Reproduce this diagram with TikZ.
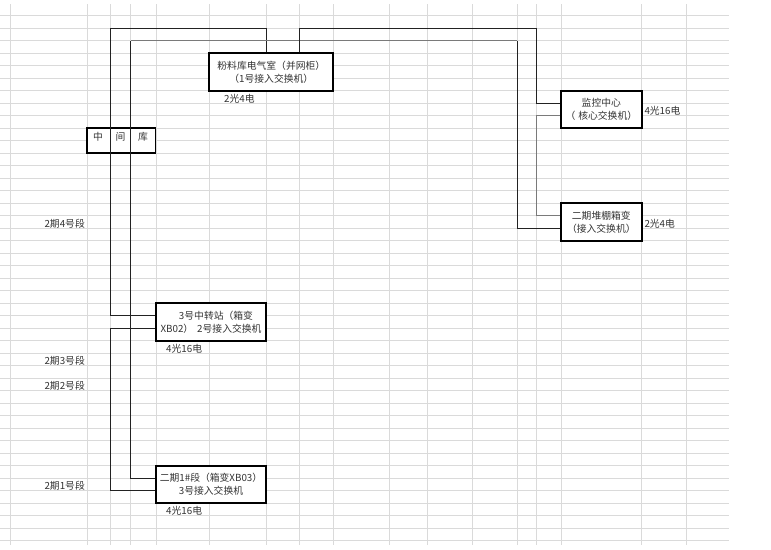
\documentclass[tikz,border=0pt]{standalone}
\usepackage{fontspec}
\newfontfamily\cjk{Noto Sans CJK SC}
\definecolor{gridc}{HTML}{DADADA}
\definecolor{connc}{HTML}{222222}
\definecolor{conng}{HTML}{7A7A7A}
\definecolor{txtc}{HTML}{333333}
\begin{document}
\begin{tikzpicture}[x=1pt,y=-1pt,
  gridline/.style={draw=gridc,line width=1pt},
  box/.style={draw=black,line width=1.7pt,fill=white,inner sep=0pt,align=center,
    text=txtc,font=\cjk\fontsize{9.8}{13.3}\selectfont},
  lbl/.style={inner sep=0pt,text=txtc,font=\cjk\fontsize{9.8}{13.3}\selectfont},
  conn/.style={draw=connc,line width=1pt},
  conngray/.style={draw=conng,line width=1pt}]
\useasboundingbox (0,0) rectangle (771,549);
\fill[white] (0,0) rectangle (771,549);
% spreadsheet grid
\foreach \x in {10.7,87,110.7,130.7,156.7,209.3,266,299.3,333.3,389.3,427.3,472.3,517.3,536,561,641.7,686.7}
  \draw[gridline] (\x,4) -- (\x,545);
\foreach \k in {0,...,42}
  \draw[gridline] (0,{15.7+12.5*\k}) -- (729,{15.7+12.5*\k});
% boxes
\node[box,minimum width=124pt,minimum height=37.4pt] (fl) at (271.3,72)
  {粉料库电气室（并网柜）\\（1号接入交换机）};
\node[box,minimum width=68.3pt,minimum height=25pt] (zj) at (121.2,140.8) {};
\node[box,minimum width=80.7pt,minimum height=37.6pt] (jk) at (601.3,109.5)
  {监控中心\\（\hspace{3pt}核心交换机）};
\node[box,minimum width=80.7pt,minimum height=37.4pt] (dp) at (601.3,222)
  {二期堆棚箱变\\（接入交换机）};
\node[box,minimum width=110pt,minimum height=37.4pt] (zz) at (211,322)
  {\hspace*{10pt}3号中转站（箱变\\XB02）\hspace{4pt}2号接入交换机};
\node[box,minimum width=110pt,minimum height=37.6pt] (yd) at (211,484.5)
  {二期1\#段（箱变XB03）\\3号接入交换机};
% helper coordinates
\coordinate (xA) at (266,0);
\coordinate (pA) at (110.7,28.3);
\coordinate (yA) at (0,315.7);
\coordinate (yB) at (0,478.3);
\coordinate (pB) at (130.7,40.7);
\coordinate (pB2) at (517.3,40.7);
\coordinate (yB3) at (0,228.3);
\coordinate (xC) at (299.3,0);
\coordinate (pC) at (536,28.3);
\coordinate (yC) at (0,103.3);
\coordinate (yD) at (0,115.7);
\coordinate (pD) at (536,215.7);
\coordinate (yE) at (0,328.3);
\coordinate (pE) at (110.7,490.7);
% connectors
\draw[conn] (fl.north -| xA) |- (pA) |- (zz.west |- yA);
\draw[conn] (yd.west |- yB) -| (pB);
\draw[conngray] (pB) -- (pB2);
\draw[conn] (pB2) |- (dp.west |- yB3);
\draw[conn] (fl.north -| xC) |- (pC) |- (jk.west |- yC);
\draw[conngray] (jk.west |- yD) -| (pD) -- (dp.west |- pD);
\draw[conn] (zz.west |- yE) -| (pE) -- (yd.west |- pE);
% labels
\node[lbl] (zjt) at (120.5,136.7) {中\hspace{12.7pt}间\hspace{12.7pt}库};
\node[lbl,anchor=west] (l1) at (224,99) {2光4电};
\node[lbl,anchor=west] (l2) at (644.3,111) {4光16电};
\node[lbl,anchor=west] (l3) at (644.3,224) {2光4电};
\node[lbl,anchor=west] (l4) at (166,349) {4光16电};
\node[lbl,anchor=west] (l5) at (166,511) {4光16电};
\node[lbl,anchor=east] (s4) at (85,223.3) {2期4号段};
\node[lbl,anchor=east] (s3) at (85,361) {2期3号段};
\node[lbl,anchor=east] (s2) at (85,386) {2期2号段};
\node[lbl,anchor=east] (s1) at (85,485.7) {2期1号段};
\end{tikzpicture}
\end{document}
